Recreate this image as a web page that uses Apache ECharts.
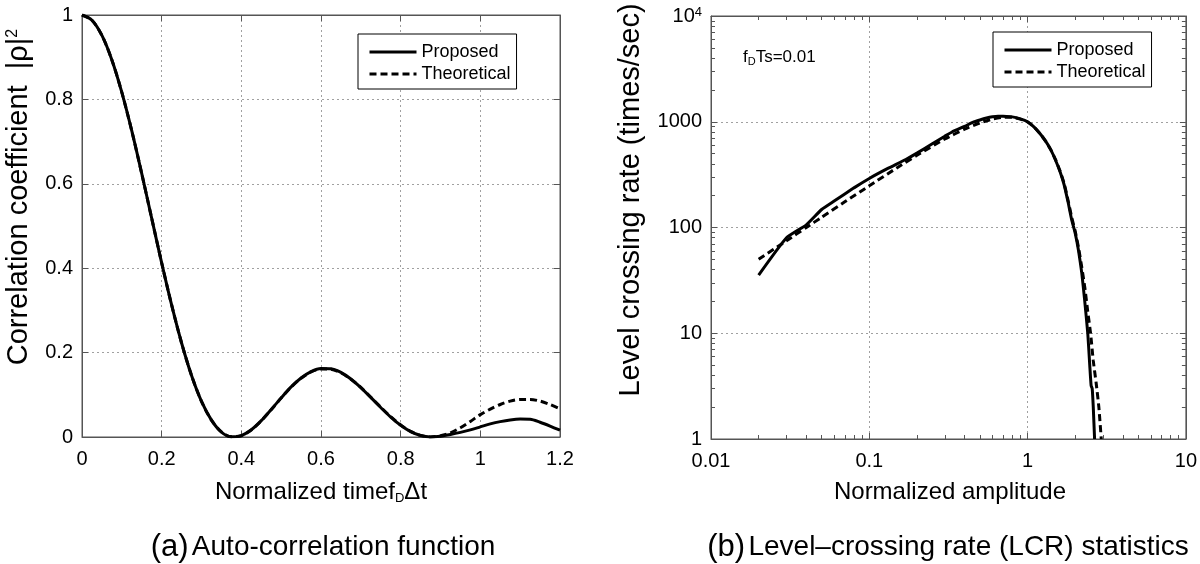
<!DOCTYPE html>
<html>
<head>
<meta charset="utf-8">
<script src="https://cdn.jsdelivr.net/npm/echarts@6/dist/echarts.min.js"></script>
<style>html,body{margin:0;padding:0;background:#fff}#c{width:1200px;height:564px}</style>
</head>
<body>
<div id="c"></div>
<script>
// ---------- (a) auto-correlation ----------
const acfTime = [0,0.025,0.05,0.075,0.1,0.125,0.15,0.175,0.2,0.225,0.25,0.275,0.3,0.325,0.35,0.375,0.4,0.425,0.45,0.475,0.5,0.525,0.55,0.575,0.6,0.625,0.65,0.675,0.7,0.725,0.75,0.775,0.8,0.825,0.85,0.875,0.9,0.925,0.95,0.975,1.0,1.025,1.05,1.075,1.1,1.125,1.15,1.175,1.2];
const acfProposed = [1.0000,0.9877,0.9516,0.8935,0.8167,0.7253,0.6240,0.5182,0.4128,0.3129,0.2228,0.1458,0.0844,0.0399,0.0115,0.0004,0.0034,0.0170,0.0387,0.0652,0.0927,0.1187,0.1398,0.1550,0.1625,0.1617,0.1530,0.1375,0.1172,0.0938,0.0700,0.0472,0.0278,0.0128,0.0035,0.0001,0.0020,0.0060,0.0110,0.0170,0.0240,0.0310,0.0365,0.0405,0.0425,0.0420,0.0350,0.0260,0.0160];
const acfTheoretical = [1.0000,0.9877,0.9516,0.8935,0.8167,0.7253,0.6240,0.5182,0.4128,0.3129,0.2228,0.1458,0.0844,0.0399,0.0123,0.0006,0.0030,0.0166,0.0383,0.0648,0.0923,0.1183,0.1392,0.1542,0.1613,0.1604,0.1521,0.1370,0.1174,0.0943,0.0706,0.0480,0.0285,0.0134,0.0038,0.0001,0.0030,0.0100,0.0220,0.0370,0.0530,0.0660,0.0770,0.0850,0.0890,0.0890,0.0850,0.0770,0.0670];

// ---------- (b) level crossing rate ----------
const lcrPropAmp  = [0.02,0.03,0.04,0.05,0.06,0.08,0.1,0.13,0.17,0.2,0.25,0.3,0.333,0.4,0.45,0.5,0.55,0.6,0.65,0.7,0.8,0.9,1.0,1.1,1.2,1.3,1.4,1.5,1.6,1.7,1.8,1.9,2.0,2.1,2.2,2.29,2.4,2.47,2.52,2.56,2.6,2.65];
const lcrPropRate = [35.5,80,106,148,178,237,291,360,440,505,620,730,800,905,985,1040,1085,1115,1130,1128,1112,1065,1000,890,770,655,545,435,340,255,175,118,88,60,37,21,10,5,3.2,3.0,2.0,1.0];
const lcrTheoAmp  = [0.02,0.03,0.04,0.05,0.07,0.1,0.15,0.2,0.3,0.4,0.5,0.6,0.7,0.8,0.9,1.0,1.1,1.2,1.3,1.4,1.5,1.6,1.7,1.8,1.9,2.0,2.1,2.2,2.3,2.4,2.5,2.6,2.71,2.82,2.92];
const lcrTheoRate = [50,75,100,125,175,248,368,482,687,850,975,1060,1100,1100,1060,995,890,770,655,545,440,345,262,182,125,92,64,42,27,16,10,5.5,3.4,2.0,1.0];

const seriesNames = ['Proposed','Theoretical'];

const F = "'Liberation Sans', Arial, Helvetica, sans-serif";
const BORDER = '#555';

const grid0 = {left:82, top:15, width:478, height:422, show:true, borderColor:BORDER, borderWidth:1, containLabel:false};
const grid1 = {left:711, top:16, width:478, height:423, show:true, borderColor:BORDER, borderWidth:1, containLabel:false};

const split = {show:true, lineStyle:{color:'#a0a0a0', width:1, type:[2,3]}};
const lbl = {color:'#000', fontSize:20, fontFamily:F};
const lineAx = {show:true, onZero:false, lineStyle:{color:BORDER, width:1}};
const majTick = {show:true, inside:true, length:6, lineStyle:{color:BORDER}};
const logMinor = {show:true, splitNumber:9, length:4, lineStyle:{color:BORDER, width:1}};

function fmtNum(v){ return String(parseFloat(Number(v).toPrecision(6))); }

const xAxis = [
  // left plot
  {gridIndex:0, type:'value', position:'bottom', min:0, max:1.2, interval:0.2,
   axisLine:lineAx, axisTick:majTick, splitLine:split,
   axisLabel:Object.assign({margin:12, formatter:fmtNum}, lbl)},
  {gridIndex:0, type:'value', position:'top', min:0, max:1.2, interval:0.2,
   axisLine:lineAx, axisTick:majTick, splitLine:{show:false}, axisLabel:{show:false}},
  // right plot
  {gridIndex:1, type:'log', logBase:10, position:'bottom', min:0.01, max:10,
   axisLine:lineAx, axisTick:majTick, minorTick:logMinor, splitLine:split,
   axisLabel:Object.assign({margin:12, formatter:fmtNum}, lbl)},
  {gridIndex:1, type:'log', logBase:10, position:'top', min:0.01, max:10,
   axisLine:lineAx, axisTick:majTick, minorTick:logMinor, splitLine:{show:false}, axisLabel:{show:false}}
];

const yAxis = [
  {gridIndex:0, type:'value', position:'left', min:0, max:1, interval:0.2,
   axisLine:lineAx, axisTick:majTick, splitLine:split,
   axisLabel:Object.assign({margin:9, formatter:fmtNum}, lbl)},
  {gridIndex:0, type:'value', position:'right', min:0, max:1, interval:0.2,
   axisLine:lineAx, axisTick:majTick, splitLine:{show:false}, axisLabel:{show:false}},
  {gridIndex:1, type:'log', logBase:10, position:'left', min:1, max:10000,
   axisLine:lineAx, axisTick:majTick, minorTick:logMinor, splitLine:split,
   axisLabel:Object.assign({margin:9,
     formatter:function(v){ return Math.abs(v-10000)<1e-6 ? '{n|10}{s|4}' : fmtNum(v); },
     rich:{n:{fontSize:20,fontFamily:F,color:'#000'}, s:{fontSize:13,fontFamily:F,color:'#000',verticalAlign:'top'}}}, lbl)},
  {gridIndex:1, type:'log', logBase:10, position:'right', min:1, max:10000,
   axisLine:lineAx, axisTick:majTick, minorTick:logMinor, splitLine:{show:false}, axisLabel:{show:false}}
];

const solid = {color:'#000', width:3, type:'solid'};
const dashed = {color:'#000', width:3, type:[7,4]};

const series = [
  {name:seriesNames[1], type:'line', xAxisIndex:0, yAxisIndex:0, symbol:'none', showSymbol:false, smooth:0.3,
   itemStyle:{color:'#000'}, lineStyle:dashed, z:2,
   data: acfTime.map((t,i)=>[t, acfTheoretical[i]])},
  {name:seriesNames[0], type:'line', xAxisIndex:0, yAxisIndex:0, symbol:'none', showSymbol:false, smooth:0.3,
   itemStyle:{color:'#000'}, lineStyle:solid, z:3,
   data: acfTime.map((t,i)=>[t, acfProposed[i]])},
  {name:seriesNames[1], type:'line', xAxisIndex:2, yAxisIndex:2, symbol:'none', showSymbol:false, smooth:0.2,
   itemStyle:{color:'#000'}, lineStyle:dashed, z:2,
   data: lcrTheoAmp.map((a,i)=>[a, lcrTheoRate[i]])},
  {name:seriesNames[0], type:'line', xAxisIndex:2, yAxisIndex:2, symbol:'none', showSymbol:false, smooth:0.15,
   itemStyle:{color:'#000'}, lineStyle:solid, z:3,
   data: lcrPropAmp.map((a,i)=>[a, lcrPropRate[i]])}
];

function legendAt(left, top){
  return {data:seriesNames, orient:'vertical', left:left, top:top,
    backgroundColor:'#fff', borderColor:'#000', borderWidth:1, borderRadius:0,
    padding:[9,6,6,10], itemWidth:47, itemHeight:16, itemGap:4, selectedMode:false,
    itemStyle:{opacity:0, borderWidth:0},
    lineStyle:{width:3},
    textStyle:{color:'#000', fontSize:18, fontFamily:F}};
}

const graphic = [
  {type:'text', x:19, y:197, rotation:Math.PI/2,
   style:{text:'{m|Correlation coefficient  |ρ|}{s|2}', align:'center', verticalAlign:'middle',
     rich:{m:{fontSize:29,fontFamily:F,fill:'#000'}, s:{fontSize:16,fontFamily:F,fill:'#000',verticalAlign:'top'}}}},
  {type:'text', x:631, y:200, rotation:Math.PI/2,
   style:{text:'Level crossing rate (times/sec)', align:'center', verticalAlign:'middle',
     fontSize:29, fontFamily:F, fill:'#000'}},
  {type:'text', x:321, y:492,
   style:{text:'{m|Normalized timef}{d|D}{m|Δt}', align:'center', verticalAlign:'middle',
     rich:{m:{fontSize:24,fontFamily:F,fill:'#000'}, d:{fontSize:13,fontFamily:F,fill:'#000',verticalAlign:'bottom',padding:[12,0,0,0]}}}},
  {type:'text', x:950, y:492,
   style:{text:'Normalized amplitude', align:'center', verticalAlign:'middle', fontSize:24, fontFamily:F, fill:'#000'}},
  {type:'text', x:743, y:57,
   style:{text:'{m|f}{d|D}{m|Ts=0.01}', align:'left', verticalAlign:'middle',
     rich:{m:{fontSize:17,fontFamily:F,fill:'#000'}, d:{fontSize:11,fontFamily:F,fill:'#000',verticalAlign:'bottom',padding:[9,0,0,0]}}}},
  {type:'text', x:323, y:547,
   style:{text:'{p|(a)} {t|Auto-correlation function}', align:'center', verticalAlign:'middle',
     rich:{p:{fontSize:31,fontFamily:F,fill:'#000'}, t:{fontSize:28,fontFamily:F,fill:'#000'}}}},
  {type:'text', x:948, y:547,
   style:{text:'{p|(b)} {t|Level–crossing rate (LCR) statistics}', align:'center', verticalAlign:'middle',
     rich:{p:{fontSize:31,fontFamily:F,fill:'#000'}, t:{fontSize:28,fontFamily:F,fill:'#000'}}}}
];

const chart = echarts.init(document.getElementById('c'), null, {renderer:'canvas'});
chart.setOption({
  animation:false,
  backgroundColor:'#fff',
  textStyle:{fontFamily:F},
  grid:[grid0, grid1],
  xAxis:xAxis,
  yAxis:yAxis,
  legend:[legendAt(358,34), legendAt(993,32)],
  series:series,
  graphic:graphic
});
</script>
</body>
</html>
